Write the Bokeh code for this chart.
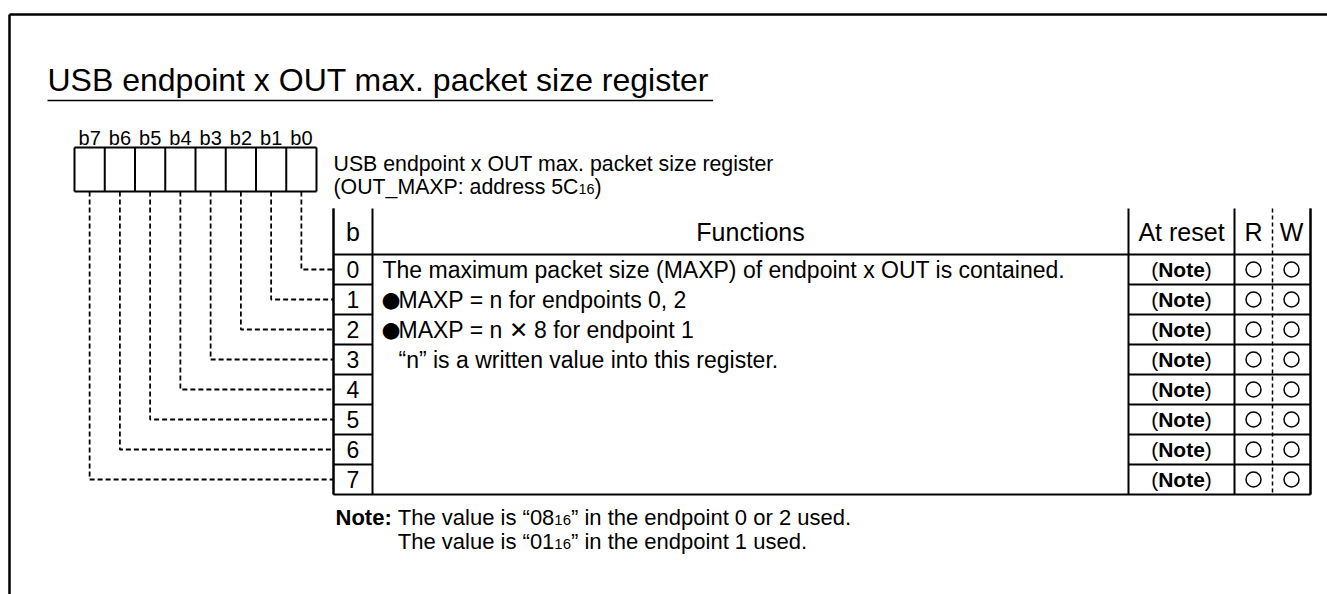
from bokeh.plotting import figure
from bokeh.models import Range1d
from bokeh.core.properties import value
from bokeh.embed import file_html
from bokeh.resources import INLINE

# ---------------- data ----------------
title_text = "USB endpoint x OUT max. packet size register"
bit_labels = ["b7", "b6", "b5", "b4", "b3", "b2", "b1", "b0"]
desc_line1 = "USB endpoint x OUT max. packet size register"
desc_line2_parts = ["(OUT_MAXP: address 5C", "16", ")"]
header_labels = ["b", "Functions", "At reset", "R", "W"]
row_bits = [0, 1, 2, 3, 4, 5, 6, 7]
function_lines = [
    "The maximum packet size (MAXP) of endpoint x OUT is contained.",
    "\u25CFMAXP = n for endpoints 0, 2",
    "\u25CFMAXP = n \u2715 8 for endpoint 1",
    "\u201Cn\u201D is a written value into this register.",
]
function_indent = [0, 0, 0, 1]
reset_values = ["Note"] * 8
read_flags = [True] * 8
write_flags = [True] * 8
note_label = "Note:"
note_lines = [
    ["The value is \u201C08", "16", "\u201D in the endpoint 0 or 2 used."],
    ["The value is \u201C01", "16", "\u201D in the endpoint 1 used."],
]

# ---------------- helpers ----------------
FONT = "Liberation Sans"
HELV = {' ': 278, '(': 333, ')': 333, ',': 278, '.': 278, ':': 278, '=': 584, '_': 556,
        '\u201C': 333, '\u201D': 333}
for c in "0123456789":
    HELV[c] = 556
HELV.update(dict(A=667, B=667, C=722, D=722, E=667, F=611, G=778, H=722, I=278, J=500,
                 K=667, L=556, M=833, N=722, O=778, P=667, Q=778, R=722, S=667, T=611,
                 U=722, V=667, W=944, X=667, Y=667, Z=611))
HELV.update(dict(a=556, b=556, c=500, d=556, e=556, f=278, g=556, h=556, i=222, j=222,
                 k=500, l=222, m=833, n=556, o=556, p=556, q=556, r=333, s=500, t=278,
                 u=556, v=500, w=722, x=500, y=500, z=500))
HELVB = dict(HELV)
HELVB.update({'N': 722, 'o': 611, 't': 333, 'e': 556, ':': 333})


def tw(s, size, bold=False):
    tab = HELVB if bold else HELV
    return sum(tab.get(c, 556) for c in s) * size / 1000.0


W, H = 1327, 594
p = figure(width=W, height=H, x_range=Range1d(0, W), y_range=Range1d(H, 0),
           output_backend="svg", toolbar_location=None, min_border=0,
           x_axis_location=None, y_axis_location=None)
p.xgrid.visible = False
p.ygrid.visible = False
p.outline_line_color = None
p.background_fill_color = "white"
p.border_fill_color = "white"


def txt(xs, ys, texts, size, align="left", baseline="middle", bold=False, font=FONT):
    p.text(x=xs, y=ys, text=texts, text_font=value(font), text_font_size=f"{size}px",
           text_align=align, text_baseline=baseline,
           text_font_style="bold" if bold else "normal", text_color="black")


def seg(x0, y0, x1, y1, lw=2.0, dash="solid"):
    p.segment(x0=x0, y0=y0, x1=x1, y1=y1, line_color="black", line_width=lw, line_dash=dash)


def runs(x, yc, parts, size, sub_scale=0.68):
    """Draw text parts where odd-indexed parts are small subscript digits."""
    for j, part in enumerate(parts):
        s = size * sub_scale if j % 2 == 1 else size
        y = yc + (0.35 * size - 0.35 * s) if j % 2 == 1 else yc
        txt([x], [y], [part], s)
        x += tw(part, s)


# ---------------- frame ----------------
seg([9, 9], [14, 14], [W, 9], [14, H], lw=2.5)

# ---------------- title ----------------
TX, TY, TS = 47, 79, 32
txt([TX], [TY], [title_text], TS)
seg([TX], [100], [TX + tw(title_text, TS) + 4], [100], lw=1.5)

# ---------------- bit boxes ----------------
BX0, BCW, BTOP, BBOT = 74, 30.25, 147, 191
nb = len(bit_labels)
cx = [BX0 + BCW * (i + 0.5) for i in range(nb)]
txt(cx, [137] * nb, bit_labels, 20, align="center")
seg([BX0 + BCW * i for i in range(nb + 1)], [BTOP] * (nb + 1),
    [BX0 + BCW * i for i in range(nb + 1)], [BBOT] * (nb + 1), lw=2)
seg([BX0, BX0], [BTOP, BBOT], [BX0 + BCW * nb, BX0 + BCW * nb], [BTOP, BBOT], lw=2)

# ---------------- description ----------------
DX, DS = 333, 21.3
txt([DX], [163], [desc_line1], DS)
runs(DX, 186, desc_line2_parts, DS)

# ---------------- table ----------------
CX = [333, 372, 1128, 1234, 1272, 1310]
TTOP, HBOT, RH = 208, 254, 30
nr = len(row_bits)
TBOT = HBOT + RH * nr
row_c = [HBOT + RH * (k + 0.5) for k in row_bits]

# outer + header line
seg([CX[0], CX[-1], CX[0], CX[0]], [TTOP, TTOP, HBOT, TBOT],
    [CX[0], CX[-1], CX[-1], CX[-1]], [TBOT, TBOT, HBOT, TBOT], lw=2)
seg([CX[0], CX[-1]], [TTOP, TTOP], [CX[0], CX[-1]], [TBOT, TBOT], lw=2)
# column lines
seg([CX[1], CX[2], CX[3]], [TTOP] * 3, [CX[1], CX[2], CX[3]], [TBOT] * 3, lw=2)
seg([CX[4]], [TTOP], [CX[4]], [TBOT], lw=1.5, dash="4 3")
# row lines in b column and reset/RW columns
ry = [HBOT + RH * k for k in range(1, nr)]
seg([CX[0]] * len(ry), ry, [CX[1]] * len(ry), ry, lw=2)
seg([CX[2]] * len(ry), ry, [CX[5]] * len(ry), ry, lw=2)

# header texts
hx = [(CX[0] + CX[1]) / 2, (CX[1] + CX[2]) / 2, (CX[2] + CX[3]) / 2,
      (CX[3] + CX[4]) / 2, (CX[4] + CX[5]) / 2]
hy = (TTOP + HBOT) / 2
txt(hx, [hy] * 5, header_labels, 25, align="center")

# bit numbers
txt([hx[0]] * nr, row_c, [str(b) for b in row_bits], 23, align="center")

# function text (bullets drawn with a font whose bullet is cap-sized)
FX = CX[1] + 10
FS = 23
for i, line in enumerate(function_lines):
    x0 = FX + 16 * function_indent[i]
    if line.startswith("\u25CF"):
        txt([x0 - 1], [row_c[i]], ["\u25CF"], FS * 0.95, font="DejaVu Sans")
        txt([x0 + 16], [row_c[i]], [line[1:]], FS)
    else:
        txt([x0], [row_c[i]], [line], FS)

# at reset column: "(Note)" with bold Note
RS = 21
nw = [tw(v, RS, bold=True) for v in reset_values]
txt([hx[2] - w / 2 for w in nw], row_c, ["("] * nr, RS, align="right")
txt([hx[2]] * nr, row_c, reset_values, RS, align="center", bold=True)
txt([hx[2] + w / 2 for w in nw], row_c, [")"] * nr, RS, align="left")

# R / W circles
rx = [hx[3] for k, f in zip(row_bits, read_flags) if f]
ryc = [row_c[k] for k, f in zip(row_bits, read_flags) if f]
wx = [hx[4] for k, f in zip(row_bits, write_flags) if f]
wyc = [row_c[k] for k, f in zip(row_bits, write_flags) if f]
p.scatter(x=rx + wx, y=ryc + wyc, size=15, marker="circle", fill_color="white",
          line_color="black", line_width=1.5)

# leader dashed lines from bit boxes to rows
xs, ys = [], []
for k in row_bits:
    xb = BX0 + BCW * (nb - 1 - k + 0.5)
    xs.append([xb, xb, CX[0]])
    ys.append([BBOT, row_c[k], row_c[k]])
p.multi_line(xs=xs, ys=ys, line_color="black", line_width=1.8, line_dash="5 3")

# ---------------- note ----------------
NS = 22
NX, NY0, NDY = 335, 517, 24
txt([NX], [NY0], [note_label], NS, bold=True)
nx0 = NX + tw(note_label + " ", NS, bold=True)
for i, parts in enumerate(note_lines):
    runs(nx0, NY0 + NDY * i, parts, NS)

open("out.html", "w").write(file_html(p, INLINE))
